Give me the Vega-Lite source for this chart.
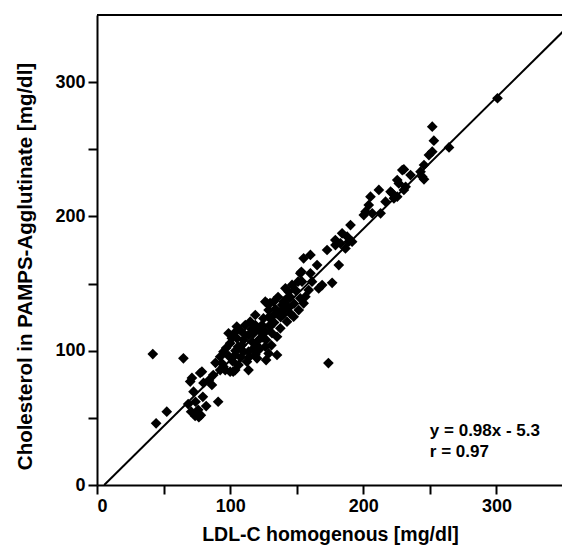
{
  "$schema": "https://vega.github.io/schema/vega-lite/v6.json",
  "width": 466,
  "height": 470,
  "autosize": {"type": "none"},
  "padding": {"left": 97, "top": 15, "right": 0, "bottom": 62},
  "background": "white",
  "config": {
    "view": {"stroke": null},
    "font": "Liberation Sans"
  },
  "layer": [
    {
      "data": {"values": [
        {"ldl":41.9,"pamps":97.5},{"ldl":64.9,"pamps":94.3},{"ldl":44.4,"pamps":45.9},{"ldl":52.4,"pamps":54.6},{"ldl":70.7,"pamps":54.6},{"ldl":73.7,"pamps":51.4},{"ldl":68.5,"pamps":60.3},{"ldl":82,"pamps":58.8},{"ldl":91,"pamps":62},{"ldl":79.5,"pamps":65.7},{"ldl":72.5,"pamps":69.5},{"ldl":70,"pamps":77},{"ldl":77.5,"pamps":83.4},{"ldl":86.3,"pamps":74.5},{"ldl":87.3,"pamps":81.9},{"ldl":92.5,"pamps":85.6},{"ldl":100,"pamps":84.4},{"ldl":92.5,"pamps":95.5},{"ldl":78.8,"pamps":84.4},{"ldl":71.3,"pamps":79.7},{"ldl":76,"pamps":56},{"ldl":74,"pamps":62},{"ldl":84,"pamps":78},{"ldl":80,"pamps":76},{"ldl":95,"pamps":88},{"ldl":89,"pamps":91},{"ldl":76.5,"pamps":50.5},{"ldl":78,"pamps":52},
        {"ldl":98.8,"pamps":113},{"ldl":101.3,"pamps":109.2},{"ldl":95,"pamps":99.3},{"ldl":93.8,"pamps":90.6},{"ldl":96.3,"pamps":85.6},{"ldl":103.8,"pamps":96.8},{"ldl":106.3,"pamps":89.4},{"ldl":112.6,"pamps":91.8},{"ldl":108.8,"pamps":104.2},{"ldl":113.8,"pamps":111.7},{"ldl":116.4,"pamps":106.7},{"ldl":118.9,"pamps":119.1},{"ldl":115.1,"pamps":121.6},{"ldl":126.4,"pamps":136.5},{"ldl":128.9,"pamps":130.3},{"ldl":132.7,"pamps":126.6},{"ldl":139,"pamps":134},{"ldl":142.7,"pamps":139},{"ldl":141.5,"pamps":146.5},{"ldl":149,"pamps":145.2},{"ldl":152.7,"pamps":139},{"ldl":151.5,"pamps":130.3},{"ldl":147.7,"pamps":125.3},{"ldl":142.7,"pamps":121.6},{"ldl":137.7,"pamps":116.7},{"ldl":135.2,"pamps":110.4},{"ldl":131.5,"pamps":113},{"ldl":126.4,"pamps":114.1},{"ldl":123.9,"pamps":119.1},{"ldl":121.4,"pamps":108},{"ldl":126.4,"pamps":103},{"ldl":121.4,"pamps":100.5},{"ldl":117.6,"pamps":101.8},{"ldl":135.2,"pamps":96.8},{"ldl":128.9,"pamps":98},{"ldl":120.2,"pamps":94.3},{"ldl":113.8,"pamps":85.6},{"ldl":103.8,"pamps":85.6},{"ldl":118.9,"pamps":126.6},{"ldl":111.4,"pamps":119.1},{"ldl":107.6,"pamps":115.4},{"ldl":105.1,"pamps":109.2},{"ldl":100,"pamps":105.5},{"ldl":110.1,"pamps":99.3},{"ldl":113.8,"pamps":99.3},{"ldl":146.5,"pamps":149},{"ldl":102.3,"pamps":84.4},{"ldl":130,"pamps":135.5},{"ldl":137.7,"pamps":129},{"ldl":151,"pamps":151.4},
        {"ldl":104,"pamps":100},{"ldl":108,"pamps":95},{"ldl":110,"pamps":108},{"ldl":114,"pamps":95},{"ldl":117,"pamps":113},{"ldl":120,"pamps":104},{"ldl":122,"pamps":115},{"ldl":124,"pamps":110},{"ldl":127,"pamps":108},{"ldl":130,"pamps":118},{"ldl":133,"pamps":121},{"ldl":116,"pamps":116},{"ldl":106,"pamps":103},{"ldl":102,"pamps":92},{"ldl":99,"pamps":96},{"ldl":111,"pamps":112},{"ldl":125,"pamps":124},{"ldl":129,"pamps":125},{"ldl":134,"pamps":131},{"ldl":138,"pamps":125},{"ldl":140,"pamps":127},{"ldl":136,"pamps":140},{"ldl":144,"pamps":132},{"ldl":119,"pamps":97},{"ldl":131,"pamps":104},{"ldl":127,"pamps":93},{"ldl":105,"pamps":118},{"ldl":103,"pamps":113},{"ldl":97,"pamps":102},{"ldl":145,"pamps":140},{"ldl":148,"pamps":135},
        {"ldl":184.1,"pamps":187.4},{"ldl":189.1,"pamps":181.2},{"ldl":179.1,"pamps":178.7},{"ldl":172.8,"pamps":175},{"ldl":160.3,"pamps":171.3},{"ldl":155.2,"pamps":168.8},{"ldl":165.3,"pamps":163.8},{"ldl":181.6,"pamps":163.8},{"ldl":160.3,"pamps":157.6},{"ldl":152.7,"pamps":157.6},{"ldl":154,"pamps":151.4},{"ldl":161.5,"pamps":151.4},{"ldl":169.1,"pamps":148.9},{"ldl":176.6,"pamps":150.6},{"ldl":143.9,"pamps":143.9},{"ldl":156.5,"pamps":140.2},{"ldl":159,"pamps":145.2},{"ldl":155.2,"pamps":135.3},{"ldl":132.7,"pamps":136.5},{"ldl":140.2,"pamps":130.3},{"ldl":145.2,"pamps":127.8},{"ldl":135.2,"pamps":127.8},
        {"ldl":190.4,"pamps":193.6},{"ldl":191.6,"pamps":181.2},{"ldl":182.8,"pamps":180},{"ldl":186.6,"pamps":176.2},{"ldl":153.5,"pamps":158.8},{"ldl":166.5,"pamps":146.4},{"ldl":127.7,"pamps":135.3},{"ldl":140.2,"pamps":136.5},{"ldl":142.7,"pamps":132.8},{"ldl":187.9,"pamps":184.9},{"ldl":173.8,"pamps":90.8},{"ldl":179,"pamps":182.4},
        {"ldl":249.3,"pamps":245.7},{"ldl":245.6,"pamps":238.3},{"ldl":243,"pamps":233.3},{"ldl":229.3,"pamps":234.5},{"ldl":235.5,"pamps":230.8},{"ldl":225.5,"pamps":227.1},{"ldl":226.7,"pamps":224.6},{"ldl":220.5,"pamps":218.4},{"ldl":231.8,"pamps":222.1},{"ldl":230.5,"pamps":219.7},{"ldl":211.7,"pamps":219.7},{"ldl":205.4,"pamps":214.7},{"ldl":216.7,"pamps":211},{"ldl":223,"pamps":213.5},{"ldl":225.5,"pamps":214.7},{"ldl":204.1,"pamps":208.5},{"ldl":201.7,"pamps":203.5},{"ldl":200.4,"pamps":201},{"ldl":206.7,"pamps":202.3},{"ldl":213,"pamps":202.3},
        {"ldl":300.8,"pamps":288},{"ldl":251.8,"pamps":266.8},{"ldl":253,"pamps":256.4},{"ldl":264.4,"pamps":251.4},{"ldl":251.8,"pamps":248.2},{"ldl":230.5,"pamps":235},{"ldl":244.3,"pamps":229.6},{"ldl":245.6,"pamps":227.6},{"ldl":221.7,"pamps":217.2}
      ]},
      "mark": {"type": "point", "shape": "diamond", "filled": true, "color": "black", "opacity": 1, "size": 115},
      "encoding": {
        "x": {"field": "ldl", "type": "quantitative", "scale": {"domain": [0, 350], "nice": false},
          "axis": {"values": [0, 50, 100, 150, 200, 250, 300], "grid": false,
            "domainColor": "black", "domainWidth": 2, "tickSize": 9, "tickWidth": 2, "tickColor": "black",
            "labelFontSize": 18, "labelFontWeight": "bold", "labelColor": "black", "labelPadding": 3,
            "labelExpr": "datum.value % 100 === 0 ? datum.label : ''",
            "title": "LDL-C homogenous [mg/dl]", "titleFontSize": 19.5, "titleFontWeight": "bold", "titleColor": "black", "titlePadding": 10}},
        "y": {"field": "pamps", "type": "quantitative", "scale": {"domain": [0, 350], "nice": false},
          "axis": {"values": [0, 50, 100, 150, 200, 250, 300], "grid": false,
            "domainColor": "black", "domainWidth": 2, "tickSize": 9, "tickWidth": 2, "tickColor": "black",
            "labelFontSize": 18, "labelFontWeight": "bold", "labelColor": "black", "labelPadding": 3,
            "labelExpr": "datum.value % 100 === 0 ? datum.label : ''",
            "title": "Cholesterol in PAMPS-Agglutinate [mg/dl]", "titleFontSize": 20.5, "titleFontWeight": "bold", "titleColor": "black", "titlePadding": 19, "titleY": 251}}
      }
    },
    {
      "data": {"values": [{"ldl": 5.4, "pamps": 0}, {"ldl": 350, "pamps": 337.7}]},
      "mark": {"type": "line", "color": "black", "strokeWidth": 2},
      "encoding": {
        "x": {"field": "ldl", "type": "quantitative"},
        "y": {"field": "pamps", "type": "quantitative"}
      }
    },
    {
      "data": {"values": [{"ldl": 0, "ldl_end": 350, "pamps": 350}]},
      "mark": {"type": "rule", "color": "black", "strokeWidth": 2},
      "encoding": {
        "x": {"field": "ldl", "type": "quantitative"},
        "x2": {"field": "ldl_end"},
        "y": {"field": "pamps", "type": "quantitative"}
      }
    },
    {
      "data": {"values": [{"ldl": 250, "pamps": 40.2, "label": "y = 0.98x - 5.3"}, {"ldl": 250, "pamps": 24.6, "label": "r  = 0.97"}]},
      "mark": {"type": "text", "align": "left", "baseline": "middle", "fontSize": 17, "fontWeight": "bold", "color": "black"},
      "encoding": {
        "x": {"field": "ldl", "type": "quantitative"},
        "y": {"field": "pamps", "type": "quantitative"},
        "text": {"field": "label"}
      }
    }
  ]
}
